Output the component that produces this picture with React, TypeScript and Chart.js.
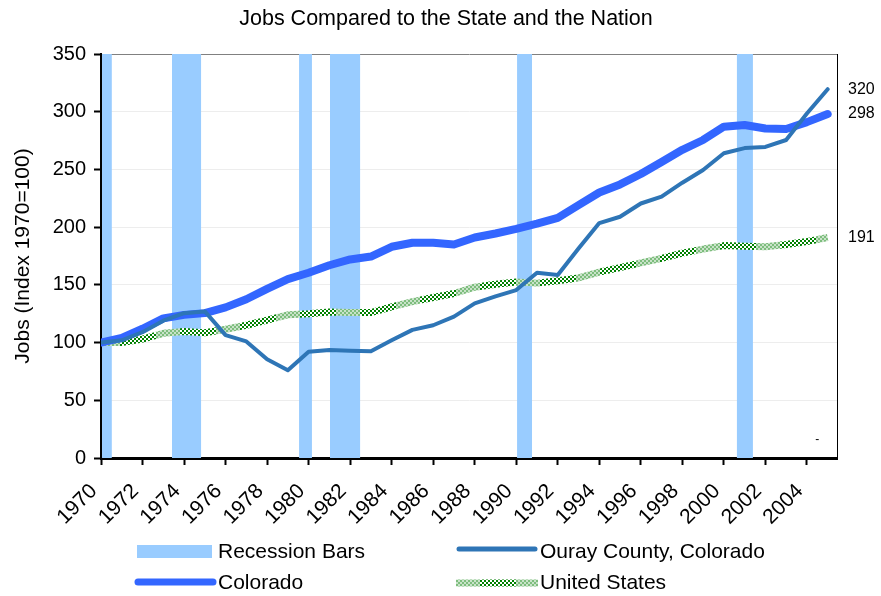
import React, { useEffect, useRef } from 'react';
import { Chart, registerables } from 'chart.js';

Chart.register(...registerables);

const FONT = "'Liberation Sans', Arial, Helvetica, sans-serif";

const chartTitle = 'Jobs Compared to the State and the Nation';
const yAxisTitle = 'Jobs (Index 1970=100)';

const years = [
  1970, 1971, 1972, 1973, 1974, 1975, 1976, 1977, 1978, 1979, 1980, 1981,
  1982, 1983, 1984, 1985, 1986, 1987, 1988, 1989, 1990, 1991, 1992, 1993,
  1994, 1995, 1996, 1997, 1998, 1999, 2000, 2001, 2002, 2003, 2004, 2005,
];

const ouray = [
  100, 102, 109, 119, 125.5, 127, 106.5, 101, 85.5, 76, 92, 93.5,
  93, 92.5, 102, 111, 115, 122.5, 134, 140, 145.5, 160.5, 158.5, 181.5,
  203.5, 209, 220.5, 226.5, 238.5, 249.5, 264, 268.5, 269.5, 275.5, 298.5, 319.5,
];

const colorado = [
  100, 104, 112, 121, 124, 125.5, 130.5, 137.5, 146.5, 155, 160.5, 167,
  172, 174.5, 183, 186.5, 186.5, 185, 191, 194.5, 198.5, 203, 208, 219,
  230, 237, 246, 256.5, 267, 275.5, 287, 288.5, 285.5, 285, 291, 298,
];

const unitedStates = [
  100, 100, 103, 108, 109.5, 108.5, 111.5, 115, 119.5, 124, 125, 126.5,
  126, 126, 131, 135.5, 139, 142.5, 148, 150.5, 152.5, 151.5, 153.5, 156,
  161, 165, 169, 173, 177.5, 181, 184, 183.5, 183, 185, 187.5, 191,
];

const recessionStart = [1970.05, 1973.42, 1979.54, 1981.03, 1990.04, 2000.63];
const recessionEnd = [1970.52, 1974.82, 1980.16, 1982.48, 1990.76, 2001.4];

const xTicks = [
  1970, 1972, 1974, 1976, 1978, 1980, 1982, 1984, 1986, 1988, 1990, 1992,
  1994, 1996, 1998, 2000, 2002, 2004,
];
const yTicks = [0, 50, 100, 150, 200, 250, 300, 350];

const legendLabels = ['Recession Bars', 'Ouray County, Colorado', 'Colorado', 'United States'];

const RECESSION_COLOR = '#99CCFF';
const OURAY_COLOR = '#2E75B6';
const COLORADO_COLOR = '#3366FF';
const US_GREEN = '#008000';

function makeChecker(ctx: CanvasRenderingContext2D): CanvasPattern | string {
  const W = 60;
  const c = document.createElement('canvas');
  c.width = W;
  c.height = 4;
  const g = c.getContext('2d');
  if (!g) return US_GREEN;
  for (let x = 0; x < W; x += 2) {
    const light = x >= 36;
    for (let y = 0; y < 4; y += 2) {
      const on = ((x / 2) + (y / 2)) % 2 === 0;
      g.fillStyle = light ? (on ? '#7DBD7D' : '#C9E3C9') : (on ? US_GREEN : '#ffffff');
      g.fillRect(x, y, 2, 2);
    }
  }
  return ctx.createPattern(c, 'repeat') || US_GREEN;
}

export default function App() {
  const ref = useRef<HTMLCanvasElement | null>(null);

  useEffect(() => {
    const canvas = ref.current;
    if (!canvas) return;
    const ctx0 = canvas.getContext('2d');
    if (!ctx0) return;
    const checker = makeChecker(ctx0);

    const yMin = yTicks[0];
    const yMax = yTicks[yTicks.length - 1];

    const toPts = (vals: number[]) => years.map((yr, i) => ({ x: yr, y: vals[i] }));
    const recessionPoints = recessionStart.flatMap((s, i) => [
      { x: s, y: yMin },
      { x: s, y: yMax },
      { x: recessionEnd[i], y: yMax },
      { x: recessionEnd[i], y: yMin },
    ]);

    const extras = {
      id: 'extras',
      afterDraw(chart: any) {
        const { ctx, chartArea, scales } = chart;
        const ys = scales.y;
        const xs = scales.x;
        ctx.save();
        // title
        ctx.fillStyle = '#000';
        ctx.font = `21.5px ${FONT}`;
        ctx.textAlign = 'center';
        ctx.textBaseline = 'middle';
        ctx.fillText(chartTitle, 446, 19);

        // right border of plot
        ctx.strokeStyle = '#000';
        ctx.lineWidth = 1;
        ctx.beginPath();
        ctx.moveTo(Math.round(chartArea.right) + 0.5, chartArea.top);
        ctx.lineTo(Math.round(chartArea.right) + 0.5, chartArea.bottom);
        ctx.stroke();

        // end labels
        ctx.font = `16px ${FONT}`;
        ctx.textAlign = 'left';
        [ouray, colorado, unitedStates].forEach((arr) => {
          const v = arr[arr.length - 1];
          ctx.fillText(String(Math.round(v)), chartArea.right + 11, ys.getPixelForValue(v));
        });

        // small stray dash
        ctx.font = `12px ${FONT}`;
        ctx.fillText('-', xs.getPixelForValue(2004.4), ys.getPixelForValue(16));

        // legend
        const col = [137, 457];
        const rowY = [551, 582];
        ctx.font = `21px ${FONT}`;
        ctx.textBaseline = 'alphabetic';
        ctx.fillStyle = RECESSION_COLOR;
        ctx.fillRect(col[0], rowY[0] - 6, 75, 13);
        ctx.lineCap = 'round';
        ctx.strokeStyle = OURAY_COLOR;
        ctx.lineWidth = 5;
        ctx.beginPath();
        ctx.moveTo(col[1] + 2, rowY[0] - 2);
        ctx.lineTo(col[1] + 78, rowY[0] - 2);
        ctx.stroke();
        ctx.strokeStyle = COLORADO_COLOR;
        ctx.lineWidth = 7;
        ctx.beginPath();
        ctx.moveTo(col[0] + 1, rowY[1]);
        ctx.lineTo(col[0] + 76, rowY[1]);
        ctx.stroke();
        ctx.lineCap = 'butt';
        ctx.strokeStyle = checker;
        ctx.lineWidth = 7;
        ctx.beginPath();
        ctx.moveTo(col[1] - 1, rowY[1] + 1);
        ctx.lineTo(col[1] + 81, rowY[1] + 1);
        ctx.stroke();

        ctx.fillStyle = '#000';
        ctx.fillText(legendLabels[0], col[0] + 81, rowY[0] + 7);
        ctx.fillText(legendLabels[1], col[1] + 83, rowY[0] + 7);
        ctx.fillText(legendLabels[2], col[0] + 81, rowY[1] + 7);
        ctx.fillText(legendLabels[3], col[1] + 83, rowY[1] + 7);
        ctx.restore();
      },
    };

    const chart = new Chart(canvas, {
      type: 'line',
      data: {
        datasets: [
          {
            label: legendLabels[1],
            data: toPts(ouray),
            borderColor: OURAY_COLOR,
            borderWidth: 4,
            pointRadius: 0,
            tension: 0,
            fill: false,
            borderCapStyle: 'round',
            borderJoinStyle: 'round',
          },
          {
            label: legendLabels[2],
            data: toPts(colorado),
            borderColor: COLORADO_COLOR,
            borderWidth: 8,
            pointRadius: 0,
            tension: 0,
            fill: false,
            borderCapStyle: 'round',
            borderJoinStyle: 'round',
          },
          {
            label: legendLabels[3],
            data: toPts(unitedStates),
            borderColor: checker as any,
            borderWidth: 7,
            pointRadius: 0,
            tension: 0,
            fill: false,
            borderJoinStyle: 'round',
          },
          {
            label: legendLabels[0],
            data: recessionPoints,
            borderColor: 'rgba(0,0,0,0)',
            borderWidth: 0,
            backgroundColor: RECESSION_COLOR,
            pointRadius: 0,
            tension: 0,
            fill: 'origin',
          },
        ],
      },
      options: {
        responsive: false,
        animation: false,
        devicePixelRatio: 1,
        events: [],
        font: { family: FONT },
        layout: { padding: { left: 0, right: 44, top: 54, bottom: 0 } },
        plugins: {
          legend: { display: false },
          tooltip: { enabled: false },
          title: { display: false },
        },
        scales: {
          x: {
            type: 'linear',
            min: 1970,
            max: 2005.45,
            afterBuildTicks: (s: any) => {
              s.ticks = xTicks.map((v) => ({ value: v }));
            },
            afterFit: (s: any) => {
              s.height = 138;
            },
            grid: {
              drawOnChartArea: false,
              drawTicks: true,
              tickLength: 7,
              tickColor: '#000',
              tickWidth: 2,
            },
            border: { display: true, color: '#000', width: 3 },
            ticks: {
              autoSkip: false,
              minRotation: 45,
              maxRotation: 45,
              color: '#000',
              padding: 14,
              labelOffset: -7,
              font: { family: FONT, size: 21 },
              callback: (v: any) => String(v),
            },
          },
          y: {
            min: yMin,
            max: yMax,
            afterBuildTicks: (s: any) => {
              s.ticks = yTicks.map((v) => ({ value: v }));
            },
            afterFit: (s: any) => {
              s.width = 101;
            },
            grid: {
              color: (c: any) => (c.tick && c.tick.value === yMax ? '#808080' : '#EDEDED'),
              tickColor: '#000',
              tickLength: 7,
              tickWidth: 2,
            },
            border: { display: true, color: '#000', width: 2 },
            ticks: {
              color: '#000',
              padding: 8,
              font: { family: FONT, size: 20 },
              callback: (v: any) => String(v),
            },
            title: {
              display: true,
              text: yAxisTitle,
              color: '#000',
              font: { family: FONT, size: 21 },
              padding: { top: 11, bottom: 0 },
            },
          },
        },
      },
      plugins: [extras],
    } as any);

    return () => chart.destroy();
  }, []);

  return (
    <div style={{ position: 'fixed', left: 0, top: 0, width: 881, height: 596, background: '#fff' }}>
      <canvas ref={ref} width={881} height={596} style={{ display: 'block' }} />
    </div>
  );
}
